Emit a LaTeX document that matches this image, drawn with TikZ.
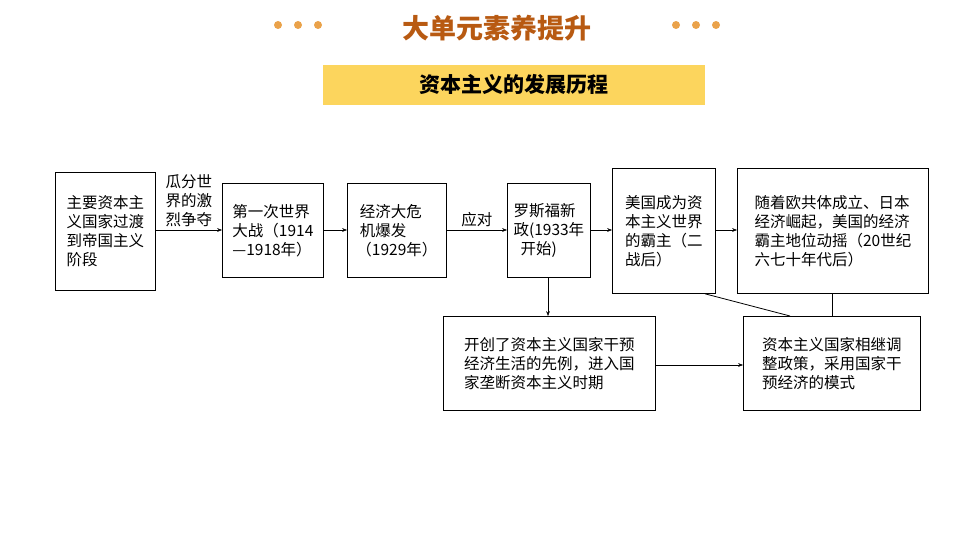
\documentclass[tikz,border=0pt]{standalone}
\usepackage{fontspec}
\setmainfont{Noto Sans CJK SC}
\usetikzlibrary{arrows.meta}
\definecolor{titlebrown}{HTML}{B85A12}
\definecolor{dotorange}{HTML}{EAA24A}
\definecolor{bandyellow}{HTML}{FCD55D}
\tikzset{stage/.style={draw=black, thick, inner sep=3pt, align=left, anchor=north west,
    font=\fontsize{15.5}{19}\selectfont},
  flow/.style={draw=black, -{Stealth[black]}}}
\begin{document}
\begin{tikzpicture}[x=1pt,y=-1pt]
    \useasboundingbox (0,0) rectangle (960,540);
    % title
    \node (title) at (497,28) {\fontsize{27}{30}\selectfont\bfseries\color{titlebrown}大单元素养提升};
    \foreach \x in {278,298,318,676,696,716}
        \fill[dotorange] (\x,25) circle (4);
    \node[fill=bandyellow, minimum width=382, minimum height=40] (sub) at (514,85)
        {\fontsize{21}{24}\selectfont\bfseries 资本主义的发展历程};
    
    % stages
    \node[stage, minimum width=100, minimum height=118] (A) at (55,172) {主要资本主\\义国家过渡\\到帝国主义\\阶段};
    \node[stage, minimum width=101, minimum height=94] (B) at (222,183) {第一次世界\\大战（1914\\—1918年）};
    \node[stage, minimum width=99, minimum height=94] (C) at (347,183) {\ 经济大危\\\ 机爆发\\（1929年）};
    \node[stage, minimum width=83, minimum height=94] (D) at (507,183) {罗斯福新\\政(1933年\\\ \ 开始)};
    \node[stage, minimum width=103, minimum height=125] (E) at (612,168) {美国成为资\\本主义世界\\的霸主（二\\战后）};
    \node[stage, minimum width=191, minimum height=125] (F) at (737,168) {随着欧共体成立、日本\\经济崛起，美国的经济\\霸主地位动摇（20世纪\\六七十年代后）};
    \node[stage, minimum width=212, minimum height=94] (G) at (443,316) {开创了资本主义国家干预\\经济生活的先例，进入国\\家垄断资本主义时期};
    \node[stage, minimum width=177, minimum height=94] (H) at (743,316) {资本主义国家相继调\\整政策，采用国家干\\预经济的模式};
    
    % connectors
    \draw[flow] (A.east |- 0,230) -- node[above, align=left, font=\fontsize{15.5}{19}\selectfont] {瓜分世\\界的激\\烈争夺} (B.west |- 0,230);
    \draw[flow] (B.east |- 0,230) -- (C.west |- 0,230);
    \draw[flow] (C.east |- 0,230) -- node[above, font=\fontsize{15.5}{19}\selectfont] {应对} (D.west |- 0,230);
    \draw[flow] (D.east |- 0,230) -- (E.west |- 0,230);
    \draw[flow] (E.east |- 0,230) -- (F.west |- 0,230);
    \draw[flow] (D.south -| 548,0) -- (G.north -| 548,0);
    \draw[flow] (G.east |- 0,365) -- (H.west |- 0,365);
    \draw[thick] (E.south -| 705,0) -- (H.north -| 790,0);
    \draw[thick] (F.south -| 832,0) -- (H.north -| 832,0);
\end{tikzpicture}
\end{document}
